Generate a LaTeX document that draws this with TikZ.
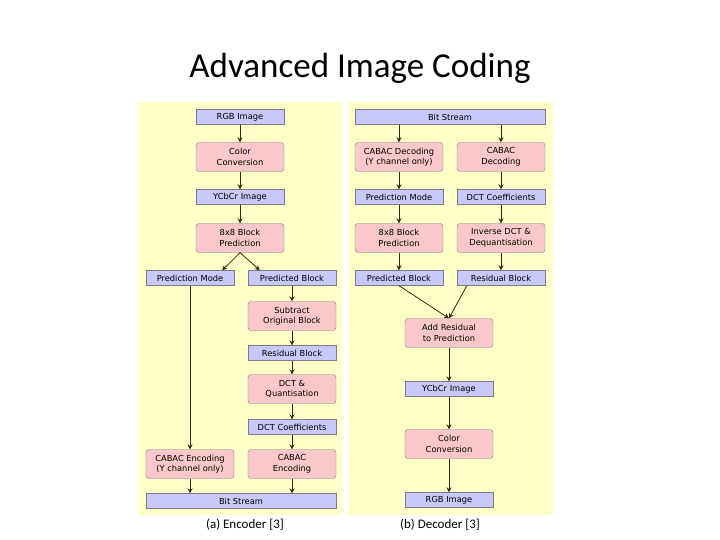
\documentclass[tikz,border=0pt]{standalone}
\usepackage{fontspec}
\setmainfont{DejaVu Sans}
\newfontfamily\titlefont{Carlito}
\usetikzlibrary{arrows.meta}
\definecolor{bgy}{HTML}{FFFFC8}
\definecolor{bluebox}{HTML}{C8C8FA}
\definecolor{pinkbox}{HTML}{FAC8C8}
\definecolor{edge}{HTML}{7A7A8A}
\tikzset{
 x=1pt,y=-1pt,
 dbox/.style={draw=edge,fill=bluebox,minimum width=88pt,minimum height=15pt,inner sep=0pt,font=\fontsize{8.3}{10}\selectfont},
 pbox/.style={draw=edge,fill=pinkbox,rounded corners=3pt,minimum width=88pt,minimum height=29pt,inner sep=0pt,align=center,font=\fontsize{8.3}{10.5}\selectfont},
 conn/.style={draw=black!70!brown,line width=0.8pt,-{Stealth[length=5pt,width=5pt]}},
}
\begin{document}
\begin{tikzpicture}
\useasboundingbox (0,0) rectangle (720,540);
\fill[bgy] (138,102) rectangle (342,515);
\fill[bgy] (348,102) rectangle (553,515);
\node[font=\titlefont\fontsize{35}{40}\selectfont] (title) at (360,68) {Advanced Image Coding};
% encoder
\node[dbox] (ergb) at (240,117) {RGB Image};
\node[pbox] (ecc) at (240,157) {Color\\Conversion};
\node[dbox] (eycc) at (240,197) {YCbCr Image};
\node[pbox] (ebp) at (240,238) {8x8 Block\\Prediction};
\node[dbox] (epm) at (190,278) {Prediction Mode};
\node[dbox] (epb) at (292,278) {Predicted Block};
\node[pbox] (esub) at (292,316) {Subtract\\Original Block};
\node[dbox] (erb) at (292,353) {Residual Block};
\node[pbox] (edct) at (292,389) {DCT \&\\Quantisation};
\node[dbox] (ecoef) at (292,427) {DCT Coefficients};
\node[pbox] (ecaby) at (190,464) {CABAC Encoding\\(Y channel only)};
\node[pbox] (ecab) at (292,464) {CABAC\\Encoding};
\node[dbox,minimum width=190pt] (ebs) at (241,501) {Bit Stream};
\draw[conn] (ergb) -- (ecc);
\draw[conn] (ecc) -- (eycc);
\draw[conn] (eycc) -- (ebp);
\draw[conn] (ebp.south) -- ([xshift=-12pt]epm.north east);
\draw[conn] (ebp.south) -- ([xshift=12pt]epb.north west);
\draw[conn] (epb) -- (esub);
\draw[conn] (esub) -- (erb);
\draw[conn] (erb) -- (edct);
\draw[conn] (edct) -- (ecoef);
\draw[conn] (ecoef) -- (ecab);
\draw[conn] (epm) -- (ecaby);
\draw[conn] (ecaby) -- (ecaby|-ebs.north);
\draw[conn] (ecab) -- (ecab|-ebs.north);
% decoder
\node[dbox,minimum width=190pt] (dbs) at (450,117) {Bit Stream};
\node[pbox] (dcaby) at (399,157) {CABAC Decoding\\(Y channel only)};
\node[pbox] (dcab) at (501,157) {CABAC\\Decoding};
\node[dbox] (dpm) at (399,197) {Prediction Mode};
\node[dbox] (dcoef) at (501,197) {DCT Coefficients};
\node[pbox] (dbp) at (399,238) {8x8 Block\\Prediction};
\node[pbox] (didct) at (501,238) {Inverse DCT \&\\Dequantisation};
\node[dbox] (dpb) at (399,278) {Predicted Block};
\node[dbox] (drb) at (501,278) {Residual Block};
\node[pbox] (dadd) at (449,333) {Add Residual\\to Prediction};
\node[dbox] (dycc) at (449,389) {YCbCr Image};
\node[pbox] (dcc) at (449,444) {Color\\Conversion};
\node[dbox] (drgb) at (449,500) {RGB Image};
\draw[conn] (dbs.south-|dcaby) -- (dcaby);
\draw[conn] (dbs.south-|dcab) -- (dcab);
\draw[conn] (dcaby) -- (dpm);
\draw[conn] (dcab) -- (dcoef);
\draw[conn] (dpm) -- (dbp);
\draw[conn] (dcoef) -- (didct);
\draw[conn] (dbp) -- (dpb);
\draw[conn] (didct) -- (drb);
\draw[conn] (dpb.south) -- (dadd.north);
\draw[conn] (drb.south west) ++(10,0) -- (dadd.north);
\draw[conn] (dadd) -- (dycc);
\draw[conn] (dycc) -- (dcc);
\draw[conn] (dcc) -- (drgb);
\node[font=\titlefont\fontsize{13}{15}\selectfont] (capa) at (245,525) {(a) Encoder [3]};
\node[font=\titlefont\fontsize{13}{15}\selectfont] (capb) at (440,525) {(b) Decoder [3]};
\end{tikzpicture}
\end{document}
